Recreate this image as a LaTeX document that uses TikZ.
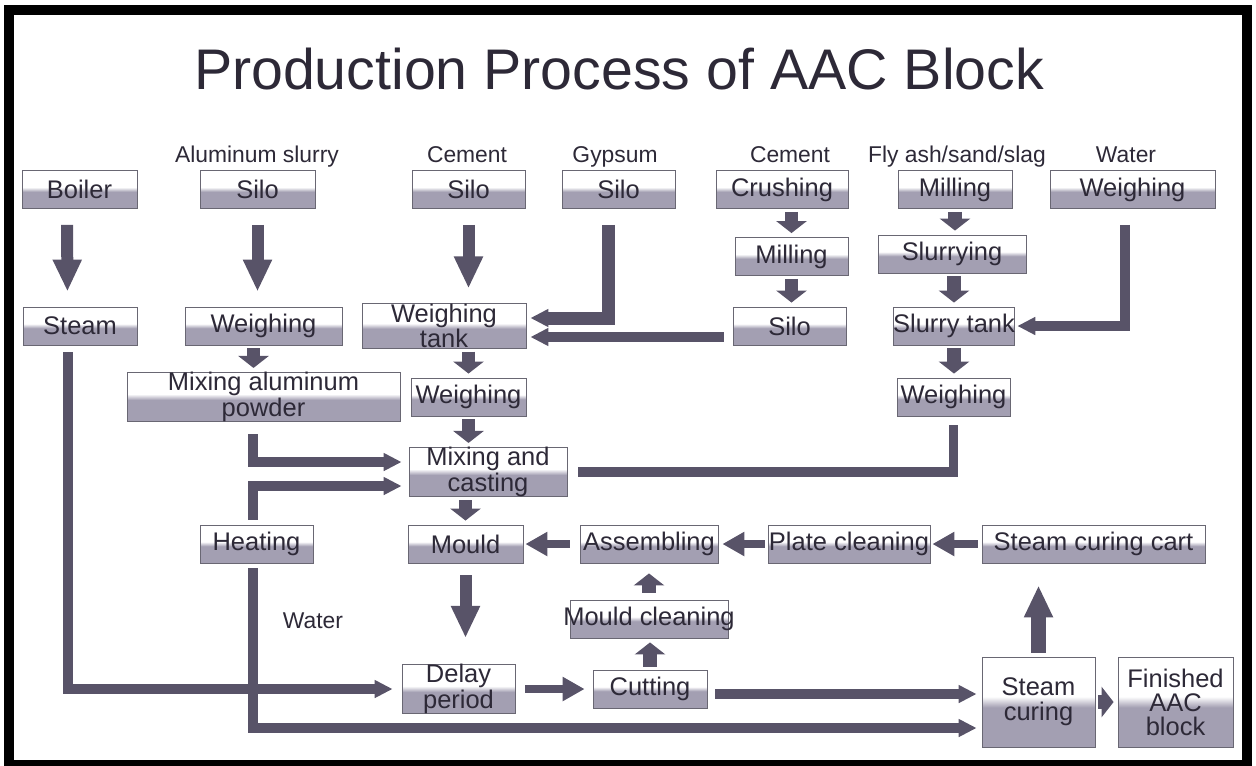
\documentclass[tikz,border=0pt]{standalone}
\usepackage{fontspec}
\setmainfont{Liberation Sans}
\usetikzlibrary{arrows.meta}
\definecolor{boxgray}{RGB}{163,159,178}
\definecolor{boxline}{RGB}{105,103,115}
\definecolor{arrowgray}{RGB}{88,83,104}
\definecolor{inkdark}{RGB}{45,41,55}
\pgfdeclareverticalshading{halfshade}{100bp}{color(0bp)=(boxgray); color(47bp)=(boxgray); color(53bp)=(white); color(100bp)=(white)}

\begin{document}
\begin{tikzpicture}[x=0.02cm, y=-0.02cm,
        stagebox/.style={draw=boxline, line width=0.5pt, shading=halfshade, inner sep=0pt,
          minimum height=0.76cm, align=center, text=inkdark, font=\fontsize{14.5}{11.5}\selectfont},
        rawlabel/.style={anchor=base, text=inkdark, font=\fontsize{13}{15}\selectfont},
        bigflow/.style={-{Triangle[width=0.54cm,length=0.64cm]}, line width=0.24cm, draw=arrowgray,
          shorten <=0.32cm, shorten >=0.3cm},
        stubflow/.style={-{Triangle[width=0.6cm,length=0.24cm]}, line width=0.27cm, draw=arrowgray,
          shorten <=0.06cm, shorten >=0.08cm},
        sideflow/.style={-{Triangle[width=0.46cm,length=0.44cm]}, line width=0.17cm, draw=arrowgray},
        pipeflow/.style={-{Triangle[width=0.34cm,length=0.36cm]}, line width=0.19cm, draw=arrowgray}
      ]
      \useasboundingbox (0,0) rectangle (1256,765);
      \draw[line width=0.19cm] (9,10) rectangle (1247,765);

      \node[anchor=base, text=inkdark, font=\fontsize{32.6}{36}\selectfont] (title) at (619,89)
        {Production Process of AAC Block};

      % raw material labels
      \node[rawlabel] (lalu) at (257,162) {Aluminum slurry};
      \node[rawlabel] (lcement) at (467,162) {Cement};
      \node[rawlabel] (lgypsum) at (615,162) {Gypsum};
      \node[rawlabel] (lcement2) at (790,162) {Cement};
      \node[rawlabel] (lfly) at (957,162) {Fly ash/sand/slag};
      \node[rawlabel] (lwater) at (1126,162) {Water};
      \node[rawlabel] (lwater2) at (313,628) {Water};

      % stages
      \node[stagebox, minimum width=2.30cm] (boiler) at (79.5,189.5) {Boiler};
      \node[stagebox, minimum width=2.30cm] (alsilo) at (257.5,189.5) {Silo};
      \node[stagebox, minimum width=2.26cm] (cemsilo) at (468.5,189.5) {Silo};
      \node[stagebox, minimum width=2.26cm] (gypsilo) at (618.5,189.5) {Silo};
      \node[stagebox, minimum width=2.64cm] (crushing) at (782,189.5) {Crushing};
      \node[stagebox, minimum width=2.28cm] (millfly) at (955,189.5) {Milling};
      \node[stagebox, minimum width=3.30cm] (watweigh) at (1132.5,189.5) {Weighing};
      \node[stagebox, minimum width=2.26cm] (millcem) at (791.5,256.5) {Milling};
      \node[stagebox, minimum width=2.96cm] (slurrying) at (952,254) {Slurrying};
      \node[stagebox, minimum width=2.28cm] (steam) at (80,326) {Steam};
      \node[stagebox, minimum width=3.14cm] (alweigh) at (263.5,326) {Weighing};
      \node[stagebox, minimum width=3.28cm] (wtank) at (444,326) {Weighing\\tank};
      \node[stagebox, minimum width=2.26cm] (cemsilo2) at (789.5,326) {Silo};
      \node[stagebox, minimum width=2.40cm] (slurrytank) at (954,326) {Slurry tank};
      \node[stagebox, minimum width=5.46cm] (mixalu) at (263.5,397) {Mixing aluminum\\powder};
      \node[stagebox, minimum width=2.30cm] (cemweigh) at (468.5,397) {Weighing};
      \node[stagebox, minimum width=2.26cm] (flyweigh) at (953.5,397) {Weighing};
      \node[stagebox, minimum width=3.16cm] (mixcast) at (488,472) {Mixing and\\casting};
      \node[stagebox, minimum width=2.26cm] (heating) at (256.5,544) {Heating};
      \node[stagebox, minimum width=2.30cm] (mould) at (465.5,544) {Mould};
      \node[stagebox, minimum width=2.76cm] (assembling) at (649,544) {Assembling};
      \node[stagebox, minimum width=3.24cm] (plateclean) at (849,544) {Plate cleaning};
      \node[stagebox, minimum width=4.46cm] (curecart) at (1093.5,544) {Steam curing cart};
      \node[stagebox, minimum width=3.16cm] (mouldclean) at (649,619) {\makebox[0pt]{Mould cleaning}};
      \node[stagebox, minimum width=2.26cm] (delay) at (458.5,689) {Delay\\period};
      \node[stagebox, minimum width=2.28cm] (cutting) at (650,689) {Cutting};
      \node[stagebox, minimum width=2.26cm, minimum height=1.8cm, font=\fontsize{14.5}{14}\selectfont]
        (steamcuring) at (1038.5,702) {Steam\\curing};
      \node[stagebox, minimum width=2.30cm, minimum height=1.8cm, font=\fontsize{14.5}{13.6}\selectfont]
        (finished) at (1175.5,702) {Finished\\AAC\\block};

      % long arrows
      \draw[bigflow] ([xshift=-0.25cm]boiler.south) -- ([xshift=-0.25cm]steam.north);
      \draw[bigflow] (alsilo.south) -- (alsilo.south |- alweigh.north);
      \draw[bigflow] (cemsilo.south) -- (cemsilo.south |- wtank.north);
      \draw[bigflow, shorten <=0.24cm, shorten >=0.52cm] (mould.south) -- (mould.south |- delay.north);
      \draw[bigflow, line width=0.3cm, shorten <=0.08cm, shorten >=0.44cm]
        (steamcuring.north) -- (steamcuring.north |- curecart.south);

      % short arrows
      \draw[stubflow] (millcem.north |- crushing.south) -- (millcem.north);
      \draw[stubflow] (millcem.south) -- (millcem.south |- cemsilo2.north);
      \draw[stubflow] (millfly.south) -- (millfly.south |- slurrying.north);
      \draw[stubflow] (slurrytank.north |- slurrying.south) -- (slurrytank.north);
      \draw[stubflow] (slurrytank.south) -- (slurrytank.south |- flyweigh.north);
      \draw[stubflow] ([xshift=-0.2cm]alweigh.south) -- ([xshift=-0.2cm]alweigh.south |- mixalu.north);
      \draw[stubflow] (cemweigh.north |- wtank.south) -- (cemweigh.north);
      \draw[stubflow] (cemweigh.south) -- (cemweigh.south |- mixcast.north);
      \draw[stubflow] (mould.north |- mixcast.south) -- (mould.north);
      \draw[stubflow, shorten <=0.14cm, shorten >=0.2cm] (mouldclean.north) -- (mouldclean.north |- assembling.south);
      \draw[stubflow] (cutting.north) -- (cutting.north |- mouldclean.south);
      \draw[stubflow] (steamcuring.east) -- (finished.west);

      \draw[sideflow, shorten <=0.2cm, shorten >=0.04cm] (assembling.west) -- (mould.east);
      \draw[sideflow, shorten <=0.06cm, shorten >=0.08cm] (plateclean.west) -- (assembling.east);
      \draw[sideflow, shorten <=0.08cm, shorten >=0.04cm] (curecart.west) -- (plateclean.east);
      \draw[sideflow, shorten <=0.2cm, shorten >=0.16cm] (delay.east) -- (cutting.west);

      % pipes
      \draw[pipeflow, line width=0.26cm, shorten <=0.32cm, shorten >=0.08cm] ([xshift=-0.2cm]gypsilo.south) |- ([yshift=0.16cm]wtank.east);
      \draw[pipeflow, shorten <=0.18cm, shorten >=0.08cm] ([yshift=-0.22cm]cemsilo2.west) -- ([yshift=-0.22cm]wtank.east);
      \draw[pipeflow, shorten <=0.32cm, shorten >=0.04cm] ([xshift=-0.15cm]watweigh.south) |- (slurrytank.east);
      \draw[pipeflow, -, shorten <=0.18cm, shorten >=0.22cm] (flyweigh.south) |- (mixcast.east);
      \draw[pipeflow, shorten <=0.24cm, shorten >=0.14cm] ([xshift=-0.21cm]mixalu.south) |- ([yshift=0.2cm]mixcast.west);
      \draw[pipeflow, shorten <=0.1cm, shorten >=0.14cm] ([xshift=-0.07cm]heating.north) |- ([yshift=-0.28cm]mixcast.west);
      \draw[pipeflow, shorten <=0.1cm, shorten >=0.1cm] ([xshift=-0.07cm]heating.south) |- ([yshift=-0.52cm]steamcuring.west);
      \draw[pipeflow, shorten <=0.14cm, shorten >=0.18cm] ([xshift=-0.24cm]steam.south) |- (delay.west);
      \draw[pipeflow, shorten <=0.16cm, shorten >=0.1cm] ([yshift=-0.1cm]cutting.east) -- ([yshift=-0.1cm]cutting.east -| steamcuring.west);
    \end{tikzpicture}
\end{document}
